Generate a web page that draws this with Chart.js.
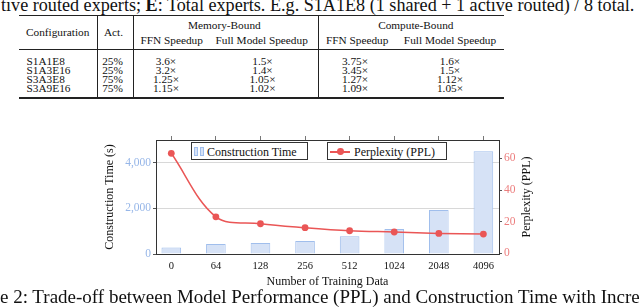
<!DOCTYPE html>
<html lang="en">
<head>
<meta charset="UTF-8" />
<title>Construction Time vs Perplexity</title>
<script src="https://cdn.jsdelivr.net/npm/chart.js"></script>
<style>
  body { margin:0; width:640px; height:308px; overflow:hidden; background:#fff; position:relative;
         font-family:"Liberation Serif", "Times New Roman", serif; color:#111; }
  .t { position:absolute; white-space:nowrap; line-height:1; font-family:"Liberation Serif", serif; }
  .c { transform:translate(-50%, -50%); }
  .l { transform:translate(0, -50%); }
  .rule { position:absolute; background:#222; }
  .legend { position:absolute; border:1px solid #333; background:#fff; box-sizing:border-box; height:18px; }
</style>
</head>
<body>
  <div id="chartBox" style="position:absolute; left:100px; top:130px; width:440px; height:160px;">
    <canvas id="chart" width="440" height="160"></canvas>
  </div>

<script>
// table data
const configs = ['S1A1E8', 'S1A3E16', 'S3A3E8', 'S3A9E16'];
const actRatio = ['25%', '25%', '75%', '75%'];
const memFfn = ['3.6×', '3.2×', '1.25×', '1.15×'];
const memFull = ['1.5×', '1.4×', '1.05×', '1.02×'];
const compFfn = ['3.75×', '3.45×', '1.27×', '1.09×'];
const compFull = ['1.6×', '1.5×', '1.12×', '1.05×'];

// chart data
const trainData = ['0', '64', '128', '256', '512', '1024', '2048', '4096'];
const buildTime = [290, 440, 480, 570, 775, 1095, 1930, 4510];
const ppl = [63.2, 23.1, 18.7, 16.2, 14.3, 13.5, 12.6, 12.2];
const timeTicks = [0, 2000, 4000];
const pplTicks = [0, 20, 40, 60];

const blueFill = 'rgb(214,226,246)';
const blueLine = 'rgb(160,190,236)';
const red = 'rgb(234,86,86)';

function put(html, x, y, cls, size) {
  const el = document.createElement('div');
  el.className = 't ' + cls;
  el.innerHTML = html;
  el.style.left = x + 'px';
  el.style.top = y + 'px';
  el.style.fontSize = size + 'px';
  document.body.appendChild(el);
  return el;
}
function rule(x, y, w, h) {
  const el = document.createElement('div');
  el.className = 'rule';
  Object.assign(el.style, { left: x + 'px', top: y + 'px', width: w + 'px', height: h + 'px' });
  document.body.appendChild(el);
}
function fitWidth(el, target) {
  const w = el.getBoundingClientRect().width;
  el.style.fontSize = (parseFloat(el.style.fontSize) * target / w) + 'px';
}

// captions (cut off by the crop)
const capTop = put('tive routed experts; <b>E</b>: Total experts. E.g. S1A1E8 (1 shared + 1 active routed) / 8 total.', 1, 4.5, 'l', 15);
fitWidth(capTop, 634);
const capBottom = put('e 2: Trade-off between Model Performance (PPL) and Construction Time with Incre', 0, 297, 'l', 15.5);
fitWidth(capBottom, 640);

// table
const fs = 11.3;
rule(19, 14.5, 485, 1.3);
rule(19, 48.6, 485, 0.8);
rule(19, 97.4, 485, 1.3);
[96.7, 132.7, 318.3].forEach(x => rule(x, 16, 0.8, 81));

put('Configuration', 57.7, 33.3, 'c', fs);
put('Act.', 113.5, 33.3, 'c', fs);
put('Memory-Bound', 224.3, 26, 'c', fs);
put('Compute-Bound', 415.8, 26, 'c', fs);
put('FFN Speedup', 171.7, 41, 'c', fs);
put('Full Model Speedup', 261.7, 41, 'c', fs);
put('FFN Speedup', 357.2, 41, 'c', fs);
put('Full Model Speedup', 450, 41, 'c', fs);

const rowY = [61.7, 70.7, 80, 89.3];
configs.forEach((c, i) => {
  const y = rowY[i];
  put(c, 26.5, y, 'l', fs);
  put(actRatio[i], 112.5, y, 'c', fs);
  put(memFfn[i], 166, y, 'c', fs);
  put(memFull[i], 262.5, y, 'c', fs);
  put(compFfn[i], 355, y, 'c', fs);
  put(compFull[i], 450, y, 'c', fs);
});

// chart
const serif = '"Liberation Serif", serif';
const xMin = -0.343, xMax = 7.35;
const idxTicks = s => { s.ticks = trainData.map((_, i) => ({ value: i })); };

const rightTitle = {
  id: 'rightTitle',
  afterDraw(chart) {
    const { ctx, chartArea } = chart;
    ctx.save();
    ctx.translate(427, (chartArea.top + chartArea.bottom) / 2);
    ctx.rotate(-Math.PI / 2);
    ctx.font = '12px ' + serif;
    ctx.fillStyle = '#111';
    ctx.textAlign = 'center';
    ctx.textBaseline = 'middle';
    ctx.fillText('Perplexity (PPL)', 0, 0);
    ctx.restore();
  }
};

new Chart(document.getElementById('chart'), {
  data: {
    datasets: [
      {
        type: 'line',
        label: 'Perplexity (PPL)',
        data: ppl.map((v, i) => ({ x: i, y: v })),
        yAxisID: 'y1',
        borderColor: red,
        backgroundColor: red,
        borderWidth: 1.5,
        pointRadius: 3.4,
        pointBorderWidth: 0,
        tension: 0.35,
        order: 0
      },
      {
        type: 'bar',
        label: 'Construction Time',
        data: buildTime.map((v, i) => ({ x: i, y: v })),
        yAxisID: 'y',
        backgroundColor: blueFill,
        borderColor: blueLine,
        borderWidth: 1,
        barPercentage: 0.44,
        categoryPercentage: 1,
        order: 1
      }
    ]
  },
  options: {
    responsive: false,
    animation: false,
    layout: { padding: { top: 10 } },
    plugins: { legend: { display: false }, tooltip: { enabled: false } },
    scales: {
      x: {
        type: 'linear', position: 'bottom', min: xMin, max: xMax, offset: false,
        afterBuildTicks: idxTicks,
        afterFit: s => { s.height = 36; },
        ticks: { callback: v => trainData[v], color: '#111', font: { family: serif, size: 10.5 }, padding: 6, maxRotation: 0, autoSkip: false },
        grid: { display: false, drawTicks: false, tickLength: 0, offset: false },
        border: { color: '#333' },
        title: { display: true, text: 'Number of Training Data', color: '#111', font: { family: serif, size: 12 }, padding: { top: 0, bottom: 1 } }
      },
      xTop: {
        type: 'linear', position: 'top', min: xMin, max: xMax, offset: false,
        afterBuildTicks: idxTicks,
        afterFit: s => { s.height = 0; },
        ticks: { display: false },
        grid: { drawOnChartArea: false, tickLength: 4, tickColor: '#777', offset: false },
        border: { color: '#333' }
      },
      y: {
        position: 'left', min: 0, max: 5000,
        afterBuildTicks: s => { s.ticks = timeTicks.map(v => ({ value: v })); },
        afterFit: s => { s.width = 56; },
        ticks: { callback: v => v.toLocaleString('en-US'), color: 'rgb(150,182,232)', font: { family: serif, size: 11.5 }, padding: 2 },
        grid: { color: c => (c.tick && c.tick.value === 0) ? 'rgba(0,0,0,0)' : '#d8d8d8', tickLength: 3, tickColor: '#555' },
        border: { color: '#333' },
        title: { display: true, text: 'Construction Time (s)', color: '#111', font: { family: serif, size: 12 }, padding: { top: 3, bottom: 0 } }
      },
      y1: {
        position: 'right', min: -0.4, max: 71.6,
        afterBuildTicks: s => { s.ticks = pplTicks.map(v => ({ value: v })); },
        afterFit: s => { s.width = 41; },
        ticks: { color: 'rgb(236,125,125)', font: { family: serif, size: 11.5 }, padding: 2 },
        grid: { drawOnChartArea: false, tickLength: 3, tickColor: '#555' },
        border: { color: '#333' }
      }
    }
  },
  plugins: [rightTitle]
});

// legend boxes drawn inside the plot, as in the source figure
function legendBox(x, w, label, icon, textLeft) {
  const box = document.createElement('div');
  box.className = 'legend';
  box.style.left = x + 'px';
  box.style.top = '142px';
  box.style.width = w + 'px';
  box.innerHTML = icon + '<span class="t l" style="left:' + textLeft + 'px; top:8.5px; font-size:12px;">' + label + '</span>';
  document.body.appendChild(box);
}
const barIcon = [2, 8].map(l =>
  '<span style="position:absolute; left:' + l + 'px; top:4px; width:2px; height:7px; background:' + blueFill + '; border:1px solid ' + blueLine + ';"></span>').join('');
const lineIcon = '<span style="position:absolute; left:2px; top:8px; width:20px; height:1.5px; background:' + red + ';"></span>' +
  '<span style="position:absolute; left:9px; top:5.4px; width:6.8px; height:6.8px; border-radius:50%; background:' + red + ';"></span>';
legendBox(191, 117, 'Construction Time', barIcon, 15);
legendBox(327, 120, 'Perplexity (PPL)', lineIcon, 26);
</script>
</body>
</html>
